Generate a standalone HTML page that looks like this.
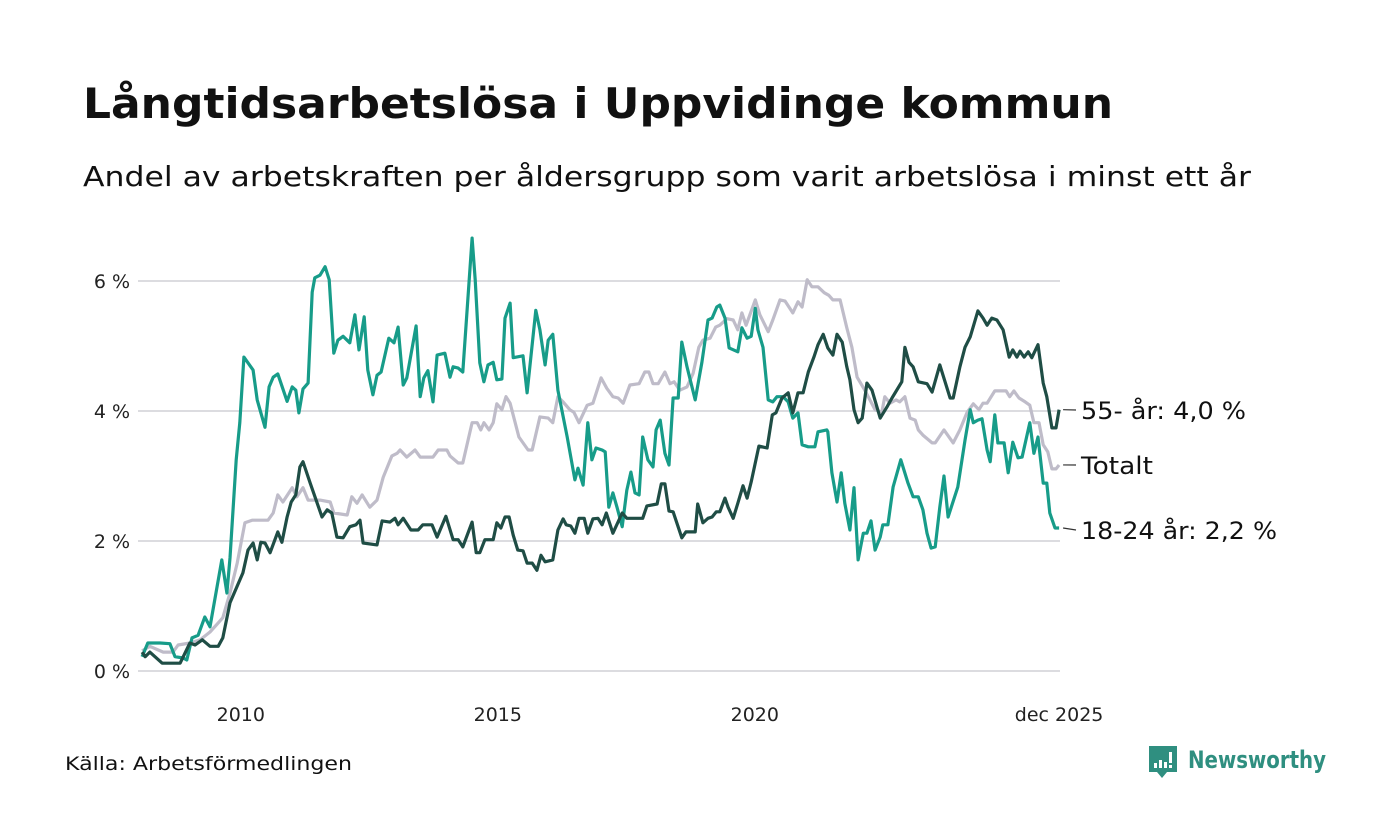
<!DOCTYPE html>
<html><head><meta charset="utf-8"><style>
html,body{margin:0;padding:0;background:#fff;}
svg{display:block;font-family:"DejaVu Sans","Liberation Sans",sans-serif;}
</style></head><body>
<svg id="chart" width="1400" height="840" viewBox="0 0 1400 840" xmlns="http://www.w3.org/2000/svg">
<text x="83" y="118" font-size="42" font-weight="bold" fill="#111" textLength="1030" lengthAdjust="spacingAndGlyphs">Långtidsarbetslösa i Uppvidinge kommun</text>
<text x="83" y="186" font-size="28" fill="#111" textLength="1168" lengthAdjust="spacingAndGlyphs">Andel av arbetskraften per åldersgrupp som varit arbetslösa i minst ett år</text>
<g id="grid"></g>
<g id="series"></g>
<g id="labels"></g>
<text x="65" y="770" font-size="19" fill="#111" textLength="287" lengthAdjust="spacingAndGlyphs">Källa: Arbetsförmedlingen</text>
<g>
<path d="M1149 746 h28 v26 h-10 l-5 6 l-5 -6 h-8 z" fill="#2f8f80"/>
<rect x="1154" y="763" width="3" height="5" fill="#fff"/>
<rect x="1159" y="760" width="3" height="8" fill="#fff"/>
<rect x="1164" y="762" width="3" height="6" fill="#fff"/>
<rect x="1169" y="752" width="3" height="11" fill="#fff"/>
<rect x="1169" y="765" width="3" height="3" fill="#fff"/>
<text x="1188" y="768" font-size="24" font-weight="bold" fill="#2f8f80" textLength="138" lengthAdjust="spacingAndGlyphs">Newsworthy</text>
</g>
</svg>
<script>
const yTicks=[0,2,4,6];
const yTickLabels=["0 %","2 %","4 %","6 %"];
const xTicks=[2010,2015,2020,2025.92];
const xTickLabels=["2010","2015","2020","dec 2025"];

const youthDates=[2008.08,2008.19,2008.43,2008.62,2008.72,2008.88,2008.95,2009.05,2009.17,2009.30,2009.40,2009.63,2009.73,2009.79,2009.91,2009.98,2010.06,2010.24,2010.32,2010.47,2010.55,2010.63,2010.72,2010.90,2011.00,2011.07,2011.13,2011.21,2011.31,2011.39,2011.44,2011.54,2011.64,2011.72,2011.81,2011.89,2011.99,2012.12,2012.22,2012.30,2012.40,2012.47,2012.57,2012.65,2012.73,2012.88,2012.98,2013.06,2013.16,2013.23,2013.41,2013.49,2013.56,2013.64,2013.74,2013.82,2013.97,2014.07,2014.13,2014.23,2014.32,2014.50,2014.56,2014.65,2014.73,2014.81,2014.91,2014.98,2015.08,2015.14,2015.24,2015.30,2015.49,2015.57,2015.74,2015.82,2015.92,2015.98,2016.07,2016.17,2016.35,2016.50,2016.56,2016.66,2016.75,2016.83,2016.91,2017.03,2017.09,2017.16,2017.24,2017.32,2017.42,2017.51,2017.59,2017.67,2017.75,2017.82,2017.92,2018.02,2018.08,2018.16,2018.25,2018.33,2018.41,2018.51,2018.58,2018.68,2018.84,2018.97,2019.09,2019.17,2019.26,2019.32,2019.42,2019.50,2019.67,2019.75,2019.85,2019.93,2020.01,2020.06,2020.16,2020.26,2020.35,2020.43,2020.55,2020.65,2020.74,2020.84,2020.92,2021.04,2021.17,2021.23,2021.40,2021.42,2021.50,2021.60,2021.68,2021.75,2021.85,2021.93,2022.01,2022.11,2022.18,2022.26,2022.34,2022.44,2022.49,2022.59,2022.69,2022.84,2022.98,2023.08,2023.18,2023.27,2023.35,2023.43,2023.51,2023.60,2023.68,2023.76,2023.95,2024.09,2024.19,2024.25,2024.34,2024.42,2024.52,2024.58,2024.67,2024.73,2024.85,2024.93,2025.02,2025.12,2025.20,2025.35,2025.43,2025.51,2025.61,2025.68,2025.74,2025.84,2025.92];
const youthValues=[0.22,0.43,0.43,0.42,0.22,0.20,0.17,0.51,0.55,0.83,0.68,1.71,1.20,1.74,3.25,3.82,4.83,4.63,4.17,3.75,4.37,4.52,4.57,4.15,4.37,4.32,3.97,4.34,4.43,5.83,6.05,6.09,6.22,6.02,4.89,5.09,5.15,5.05,5.48,4.94,5.45,4.63,4.25,4.55,4.60,5.12,5.05,5.29,4.40,4.51,5.31,4.22,4.51,4.62,4.14,4.86,4.89,4.52,4.68,4.66,4.60,6.66,6.02,4.74,4.45,4.71,4.75,4.48,4.49,5.43,5.66,4.82,4.85,4.28,5.55,5.25,4.71,5.09,5.18,4.32,3.60,2.94,3.12,2.86,3.82,3.25,3.43,3.40,3.37,2.52,2.74,2.52,2.22,2.78,3.06,2.74,2.71,3.60,3.25,3.14,3.71,3.86,3.35,3.17,4.20,4.20,5.06,4.68,4.17,4.75,5.40,5.43,5.60,5.63,5.43,4.97,4.91,5.28,5.12,5.15,5.58,5.25,4.98,4.17,4.14,4.22,4.22,4.14,3.89,3.97,3.48,3.45,3.45,3.68,3.71,3.68,3.05,2.60,3.05,2.58,2.17,2.82,1.71,2.12,2.12,2.31,1.86,2.06,2.25,2.25,2.83,3.25,2.89,2.68,2.68,2.48,2.12,1.89,1.91,2.52,3.00,2.37,2.83,3.55,4.02,3.82,3.86,3.88,3.40,3.22,3.94,3.51,3.51,3.05,3.52,3.28,3.29,3.82,3.35,3.60,2.89,2.89,2.43,2.20,2.20];

const olderDates=[2008.08,2008.14,2008.23,2008.47,2008.82,2009.01,2009.11,2009.25,2009.40,2009.56,2009.65,2009.79,2010.04,2010.14,2010.24,2010.32,2010.39,2010.47,2010.57,2010.72,2010.80,2010.90,2010.98,2011.07,2011.15,2011.21,2011.35,2011.58,2011.68,2011.77,2011.87,2011.99,2012.12,2012.24,2012.32,2012.38,2012.65,2012.75,2012.90,2013.00,2013.06,2013.16,2013.31,2013.45,2013.54,2013.72,2013.82,2013.99,2014.13,2014.23,2014.32,2014.50,2014.58,2014.65,2014.75,2014.91,2014.98,2015.06,2015.14,2015.22,2015.30,2015.39,2015.49,2015.57,2015.67,2015.76,2015.84,2015.92,2016.07,2016.17,2016.27,2016.33,2016.42,2016.50,2016.58,2016.68,2016.75,2016.85,2016.95,2017.03,2017.11,2017.24,2017.42,2017.51,2017.82,2017.90,2018.10,2018.18,2018.25,2018.33,2018.41,2018.58,2018.66,2018.84,2018.89,2018.99,2019.09,2019.17,2019.25,2019.32,2019.42,2019.48,2019.58,2019.67,2019.77,2019.85,2019.93,2020.08,2020.24,2020.34,2020.41,2020.53,2020.65,2020.74,2020.84,2020.94,2021.04,2021.15,2021.23,2021.33,2021.42,2021.52,2021.60,2021.70,2021.79,2021.85,2021.93,2022.01,2022.09,2022.18,2022.28,2022.44,2022.57,2022.67,2022.86,2022.92,2023.00,2023.08,2023.18,2023.35,2023.45,2023.60,2023.80,2023.86,2023.99,2024.09,2024.19,2024.34,2024.44,2024.52,2024.61,2024.71,2024.83,2024.95,2025.02,2025.10,2025.16,2025.24,2025.32,2025.39,2025.51,2025.61,2025.68,2025.78,2025.86,2025.92];
const olderValues=[0.29,0.22,0.29,0.12,0.12,0.43,0.40,0.48,0.38,0.38,0.51,1.05,1.51,1.86,1.97,1.71,1.98,1.97,1.82,2.14,1.98,2.37,2.60,2.71,3.14,3.22,2.89,2.37,2.48,2.43,2.06,2.05,2.22,2.25,2.32,1.97,1.94,2.31,2.29,2.35,2.25,2.35,2.17,2.17,2.25,2.25,2.06,2.38,2.02,2.02,1.91,2.29,1.82,1.82,2.02,2.02,2.28,2.20,2.37,2.37,2.09,1.86,1.85,1.66,1.66,1.55,1.78,1.68,1.71,2.17,2.34,2.25,2.23,2.12,2.35,2.35,2.12,2.34,2.35,2.25,2.43,2.12,2.43,2.35,2.35,2.54,2.57,2.88,2.88,2.46,2.45,2.05,2.14,2.14,2.57,2.28,2.35,2.37,2.45,2.45,2.66,2.52,2.35,2.58,2.85,2.66,2.91,3.46,3.43,3.94,3.97,4.20,4.28,3.97,4.28,4.28,4.60,4.83,5.02,5.18,4.97,4.86,5.18,5.06,4.68,4.48,4.02,3.82,3.89,4.43,4.32,3.89,4.06,4.20,4.45,4.98,4.75,4.68,4.45,4.42,4.29,4.71,4.20,4.20,4.68,4.98,5.14,5.54,5.43,5.32,5.43,5.40,5.25,4.83,4.94,4.83,4.92,4.83,4.91,4.82,5.02,4.43,4.22,3.74,3.74,4.02];

const totalDates=[2008.08,2008.23,2008.49,2008.68,2008.78,2009.01,2009.21,2009.40,2009.56,2009.65,2009.79,2009.93,2010.08,2010.22,2010.53,2010.63,2010.72,2010.82,2011.00,2011.09,2011.21,2011.31,2011.54,2011.74,2011.81,2012.07,2012.16,2012.26,2012.36,2012.51,2012.65,2012.77,2012.94,2013.04,2013.10,2013.23,2013.39,2013.49,2013.74,2013.84,2014.01,2014.07,2014.23,2014.32,2014.50,2014.60,2014.67,2014.73,2014.83,2014.91,2014.98,2015.08,2015.16,2015.24,2015.41,2015.59,2015.67,2015.82,2015.98,2016.07,2016.17,2016.27,2016.40,2016.48,2016.58,2016.74,2016.85,2017.01,2017.12,2017.24,2017.34,2017.44,2017.57,2017.75,2017.86,2017.94,2018.02,2018.12,2018.25,2018.35,2018.43,2018.54,2018.68,2018.80,2018.91,2018.99,2019.13,2019.24,2019.32,2019.46,2019.58,2019.67,2019.75,2019.83,2020.01,2020.10,2020.26,2020.35,2020.49,2020.59,2020.74,2020.84,2020.92,2021.02,2021.11,2021.23,2021.35,2021.44,2021.52,2021.66,2021.79,2021.89,2021.99,2022.14,2022.34,2022.47,2022.53,2022.63,2022.75,2022.82,2022.92,2023.02,2023.12,2023.18,2023.27,2023.45,2023.51,2023.68,2023.86,2023.99,2024.13,2024.25,2024.36,2024.44,2024.52,2024.67,2024.89,2024.96,2025.04,2025.14,2025.26,2025.35,2025.43,2025.53,2025.61,2025.70,2025.78,2025.86,2025.92];
const totalValues=[0.31,0.38,0.29,0.29,0.40,0.43,0.48,0.60,0.74,0.82,1.20,1.66,2.28,2.32,2.32,2.43,2.71,2.60,2.82,2.68,2.82,2.63,2.63,2.60,2.43,2.40,2.68,2.58,2.71,2.52,2.63,2.98,3.31,3.35,3.40,3.29,3.40,3.29,3.29,3.40,3.40,3.31,3.20,3.20,3.82,3.82,3.71,3.82,3.71,3.82,4.11,4.02,4.22,4.12,3.60,3.40,3.40,3.91,3.89,3.82,4.22,4.14,4.02,3.98,3.82,4.09,4.12,4.51,4.35,4.22,4.20,4.12,4.40,4.42,4.60,4.60,4.42,4.42,4.60,4.42,4.45,4.32,4.37,4.58,4.98,5.09,5.12,5.29,5.32,5.42,5.40,5.25,5.51,5.32,5.71,5.48,5.22,5.40,5.71,5.69,5.51,5.68,5.60,6.02,5.91,5.91,5.82,5.78,5.71,5.71,5.28,4.98,4.52,4.32,4.02,3.98,4.22,4.12,4.17,4.14,4.22,3.89,3.86,3.71,3.63,3.51,3.51,3.71,3.51,3.71,3.98,4.11,4.02,4.12,4.12,4.31,4.31,4.22,4.31,4.20,4.14,4.09,3.82,3.82,3.48,3.37,3.11,3.11,3.17];

const labelTexts=["55- år: 4,0 %","Totalt","18-24 år: 2,2 %"];

const NS="http://www.w3.org/2000/svg";
const X0=138, PXY=51.4, Y0=671, PXV=65;
function xScale(t){return X0+(t-2008)*PXY;}
function yScale(v){return Y0-v*PXV;}
function mk(tag,attrs,parent){const e=document.createElementNS(NS,tag);for(const k in attrs)e.setAttribute(k,attrs[k]);parent.appendChild(e);return e;}

const grid=document.getElementById('grid');
yTicks.forEach((v,i)=>{
  const l=mk('line',{x1:138,x2:1060,y1:yScale(v),y2:yScale(v),stroke:'#dcdce0','stroke-width':2},grid);
  
  
  const t=mk('text',{x:130,y:yScale(v)+7,'text-anchor':'end','font-size':19,fill:'#222'},grid);
  
  
  t.textContent=yTickLabels[i];
});
xTicks.forEach((v,i)=>{
  const t=mk('text',{x:xScale(v),y:721,'text-anchor':'middle','font-size':19,fill:'#222'},grid);
  
  
  t.textContent=xTickLabels[i];
});

const ser=document.getElementById('series');
function drawLine(d,v,color,name){
  const p=d.map((t,i)=>(i?'L':'M')+xScale(t).toFixed(1)+' '+yScale(v[i]).toFixed(1)).join(' ');
  const e=mk('path',{d:p,fill:'none',stroke:color,'stroke-width':3.2,'stroke-linejoin':'round'},ser);
  
  
}
drawLine(totalDates,totalValues,'#bfbcc9','line-totalt');
drawLine(youthDates,youthValues,'#179c89','line-18-24');
drawLine(olderDates,olderValues,'#1f4d45','line-55-plus');

const lab=document.getElementById('labels');
const ends=[[olderDates,olderValues],[totalDates,totalValues],[youthDates,youthValues]];
const labelY=[410,465,530];
const labelW=[165,72,196];
ends.forEach((s,i)=>{
  const lastT=s[0][s[0].length-1], lastV=s[1][s[1].length-1];
  const x=xScale(lastT)+4, y=yScale(lastV);
  const l=mk('line',{x1:x,y1:y,x2:1076,y2:labelY[i],stroke:'#333','stroke-width':1.2},lab);
  
  
  const t=mk('text',{x:1081,y:labelY[i]+9,'font-size':24,fill:'#111',textLength:labelW[i],lengthAdjust:'spacingAndGlyphs'},lab);
  
  
  t.textContent=labelTexts[i];
});
</script>
</body></html>
